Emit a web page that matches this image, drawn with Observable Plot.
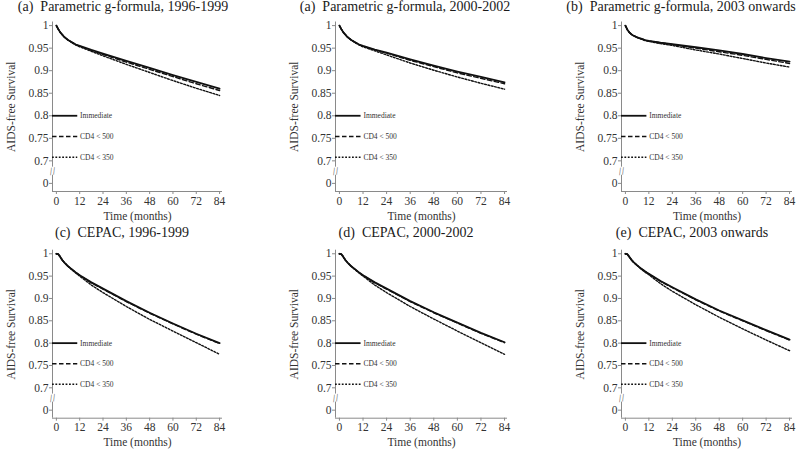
<!DOCTYPE html>
<html><head><meta charset="utf-8">
<script src="https://cdn.jsdelivr.net/npm/d3@7"></script>
<script src="https://cdn.jsdelivr.net/npm/@observablehq/plot@0.6"></script>
<style>
body{margin:0;background:#fff;}
#root{position:relative;width:800px;height:450px;overflow:hidden;font-family:"Liberation Serif","DejaVu Serif",serif;}
.panel{position:absolute;width:267px;height:225px;}
.panel svg{position:absolute;left:0;top:0;}
.panel svg, .panel svg text{font-family:"Liberation Serif","DejaVu Serif",serif !important;}
.title{position:absolute;white-space:pre;font-size:14px;line-height:16px;color:#1a1a1a;transform:translateX(-50%);}
</style></head><body><div id="root"></div>
<script>
// ---- data ----
const months = [0, 1, 2, 3, 4, 6, 8, 10, 12, 18, 24, 36, 48, 60, 72, 84];
const strategies = ["Immediate", "CD4 < 500", "CD4 < 350"];
const panelTitles = [
  "(a)  Parametric g-formula, 1996-1999",
  "(a)  Parametric g-formula, 2000-2002",
  "(b)  Parametric g-formula, 2003 onwards",
  "(c)  CEPAC, 1996-1999",
  "(d)  CEPAC, 2000-2002",
  "(e)  CEPAC, 2003 onwards"
];
const xTicks = [0, 12, 24, 36, 48, 60, 72, 84];
const yTicks = [0, 0.7, 0.75, 0.8, 0.85, 0.9, 0.95, 1];

const gf9699Immediate = [1, 0.992, 0.985, 0.980, 0.975, 0.968, 0.963, 0.958, 0.955, 0.946, 0.938, 0.922, 0.906, 0.890, 0.875, 0.860];
const gf9699Cd4500    = [1, 0.992, 0.985, 0.980, 0.975, 0.968, 0.963, 0.958, 0.954, 0.945, 0.936, 0.919, 0.903, 0.887, 0.871, 0.856];
const gf9699Cd4350    = [1, 0.992, 0.985, 0.980, 0.975, 0.968, 0.962, 0.957, 0.953, 0.943, 0.933, 0.914, 0.896, 0.878, 0.861, 0.845];

const gf0002Immediate = [1, 0.992, 0.985, 0.980, 0.975, 0.968, 0.963, 0.958, 0.955, 0.947, 0.940, 0.925, 0.911, 0.898, 0.886, 0.874];
const gf0002Cd4500    = [1, 0.992, 0.985, 0.980, 0.975, 0.968, 0.963, 0.958, 0.954, 0.946, 0.939, 0.923, 0.909, 0.895, 0.883, 0.871];
const gf0002Cd4350    = [1, 0.992, 0.985, 0.980, 0.975, 0.968, 0.962, 0.957, 0.953, 0.944, 0.935, 0.917, 0.901, 0.886, 0.872, 0.859];

const gf03Immediate   = [1, 0.991, 0.985, 0.981, 0.978, 0.974, 0.971, 0.968, 0.966, 0.962, 0.959, 0.952, 0.945, 0.937, 0.928, 0.920];
const gf03Cd4500      = [1, 0.991, 0.985, 0.981, 0.978, 0.974, 0.971, 0.968, 0.966, 0.962, 0.958, 0.950, 0.942, 0.934, 0.925, 0.916];
const gf03Cd4350      = [1, 0.991, 0.985, 0.981, 0.978, 0.974, 0.970, 0.967, 0.965, 0.960, 0.956, 0.946, 0.937, 0.927, 0.917, 0.908];

const cepac9699Immediate = [1, 0.999, 0.993, 0.986, 0.981, 0.972, 0.965, 0.958, 0.952, 0.936, 0.922, 0.894, 0.868, 0.844, 0.821, 0.800];
const cepac9699Cd4500    = [1, 0.999, 0.993, 0.986, 0.981, 0.972, 0.965, 0.958, 0.952, 0.935, 0.921, 0.893, 0.867, 0.843, 0.820, 0.799];
const cepac9699Cd4350    = [1, 0.999, 0.993, 0.986, 0.981, 0.972, 0.964, 0.957, 0.950, 0.930, 0.913, 0.882, 0.853, 0.827, 0.801, 0.775];

const cepac0002Immediate = [1, 0.999, 0.993, 0.986, 0.981, 0.972, 0.965, 0.958, 0.952, 0.936, 0.922, 0.894, 0.869, 0.846, 0.823, 0.802];
const cepac0002Cd4500    = [1, 0.999, 0.993, 0.986, 0.981, 0.972, 0.965, 0.958, 0.952, 0.935, 0.921, 0.893, 0.868, 0.845, 0.822, 0.801];
const cepac0002Cd4350    = [1, 0.999, 0.993, 0.986, 0.981, 0.972, 0.964, 0.957, 0.950, 0.930, 0.913, 0.882, 0.854, 0.827, 0.801, 0.775];

const cepac03Immediate = [1, 0.999, 0.993, 0.987, 0.982, 0.974, 0.967, 0.961, 0.955, 0.939, 0.925, 0.898, 0.873, 0.851, 0.829, 0.808];
const cepac03Cd4500    = [1, 0.999, 0.993, 0.987, 0.982, 0.974, 0.967, 0.961, 0.955, 0.938, 0.924, 0.897, 0.872, 0.850, 0.828, 0.807];
const cepac03Cd4350    = [1, 0.999, 0.993, 0.987, 0.982, 0.974, 0.966, 0.959, 0.953, 0.933, 0.916, 0.886, 0.858, 0.832, 0.807, 0.783];

const panelSeries = [
  [gf9699Immediate, gf9699Cd4500, gf9699Cd4350],
  [gf0002Immediate, gf0002Cd4500, gf0002Cd4350],
  [gf03Immediate, gf03Cd4500, gf03Cd4350],
  [cepac9699Immediate, cepac9699Cd4500, cepac9699Cd4350],
  [cepac0002Immediate, cepac0002Cd4500, cepac0002Cd4350],
  [cepac03Immediate, cepac03Cd4500, cepac03Cd4350]
];

// ---- layout / style ----
const SERIF = "Liberation Serif";
const ZERO_POS = 0.65;      // where 0 sits below the axis break
const BREAK_LO = 0.668, BREAK_HI = 0.686, BREAK_MID = 0.677;
const Y_DOMAIN = [0.632, 1.008];
const X_DOMAIN = [-2, 85.5];
const legendRows = [0.8, 0.754, 0.708];
const legendLineEnd = 11, legendTextX = 12.2;
const lineStyles = [
  {strokeWidth: 1.8},
  {strokeWidth: 1.4, strokeDasharray: "4.5,2.5"},
  {strokeWidth: 1.4, strokeDasharray: "1.8,1.6"}
];
const colLeft = [0, 267, 533];
const colML = [52, 68, 88];
const colMR = [45, 27, 8];
const rowTop = [0, 225];
const rowMT = [21.5, 24.7];
const rowMB = [34, 32.3];
const titleX = [[123, 138, 148], [122, 139, 159]];
const titleTop = [-1, 0];

const ink = "#111";
const axisGray = "#8a8a8a";
const tickInk = "#333";
const yPos = v => (v === 0 ? ZERO_POS : v);
const fmtY = v => (v < 0.66 ? "0" : String(+v.toFixed(2)));

const root = document.getElementById("root");

panelSeries.forEach((series, p) => {
  const r = Math.floor(p / 3), c = p % 3;
  const div = document.createElement("div");
  div.className = "panel";
  div.style.left = colLeft[c] + "px";
  div.style.top = rowTop[r] + "px";

  const lineMarks = series.map((vals, k) =>
    Plot.line(months.map((t, i) => ({t, v: vals[i]})), {x: "t", y: "v", stroke: ink, ...lineStyles[k]})
  );
  const legendData = strategies.map((s, k) => ({s, y: legendRows[k], k}));
  const legendLines = legendData.map((d, k) =>
    Plot.ruleY([d], {y: "y", x1: X_DOMAIN[0], x2: legendLineEnd, stroke: ink, ...lineStyles[k]})
  );

  const chart = Plot.plot({
    width: 267, height: 225,
    marginLeft: colML[c], marginRight: colMR[c], marginTop: rowMT[r], marginBottom: rowMB[r],
    style: {fontFamily: SERIF, fontSize: "11.5px", color: tickInk, background: "transparent", overflow: "visible"},
    x: {domain: X_DOMAIN},
    y: {domain: Y_DOMAIN},
    marks: [
      // axis lines (with a gap for the break)
      Plot.ruleY([Y_DOMAIN[0]], {x1: X_DOMAIN[0], x2: X_DOMAIN[1], stroke: axisGray, strokeWidth: 1}),
      Plot.ruleX([X_DOMAIN[0]], {y1: Y_DOMAIN[0], y2: BREAK_LO, stroke: axisGray, strokeWidth: 1}),
      Plot.ruleX([X_DOMAIN[0]], {y1: BREAK_HI, y2: Y_DOMAIN[1], stroke: axisGray, strokeWidth: 1}),
      Plot.text([BREAK_MID], {x: X_DOMAIN[0], y: d => d, text: () => "//", fontSize: 11, rotate: -12, fill: "#555", fontFamily: SERIF}),
      Plot.axisX({
        ticks: xTicks, tickSize: 3, tickPadding: 2, stroke: axisGray,
        label: "Time (months)", labelAnchor: "center", labelOffset: 28, labelArrow: "none",
        fontSize: 11.5, fill: tickInk, fontFamily: SERIF
      }),
      Plot.axisY({
        ticks: yTicks.map(yPos), tickFormat: fmtY, tickSize: 3, tickPadding: 1, stroke: axisGray,
        label: "AIDS-free Survival", labelAnchor: "center", labelOffset: 46, labelArrow: "none",
        fontSize: 11.5, fill: tickInk, fontFamily: SERIF
      }),
      ...legendLines,
      Plot.text(legendData, {x: legendTextX, y: "y", text: "s", textAnchor: "start", fontSize: 7.5, fill: "#333", fontFamily: SERIF}),
      ...lineMarks
    ]
  });
  div.appendChild(chart);

  const t = document.createElement("div");
  t.className = "title";
  t.textContent = panelTitles[p];
  t.style.left = titleX[r][c] + "px";
  t.style.top = titleTop[r] + "px";
  div.appendChild(t);
  root.appendChild(div);
});
</script>
</body></html>
